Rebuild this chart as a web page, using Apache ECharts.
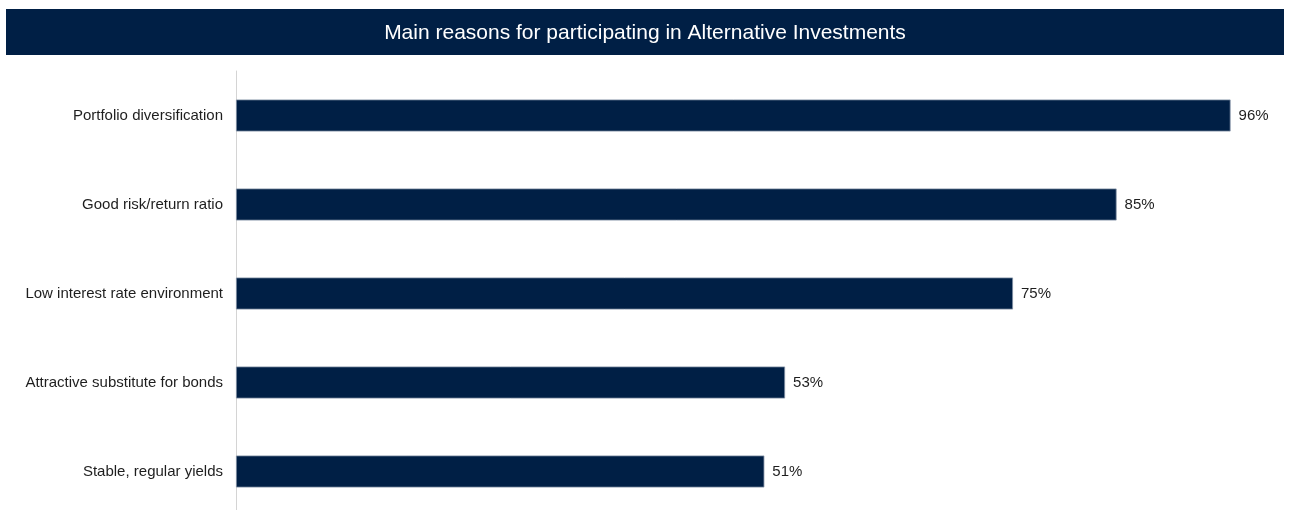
<!DOCTYPE html>
<html>
<head>
<meta charset="utf-8">
<script src="https://cdn.jsdelivr.net/npm/echarts@6/dist/echarts.min.js"></script>
<style>
  html, body { margin: 0; padding: 0; background: #fff; overflow: hidden; }
  /* a little taller than the window so the plot area runs off the bottom edge */
  #chart { width: 1290px; height: 520px; }
</style>
</head>
<body>
<div id="chart"></div>
<script>
// Reasons, top to bottom
const categories = [
  'Portfolio diversification',
  'Good risk/return ratio',
  'Low interest rate environment',
  'Attractive substitute for bonds',
  'Stable, regular yields'
];
// Share of respondents (%)
const shares = [96, 85, 75, 53, 51];

const chartTitle = 'Main reasons for participating in Alternative Investments';
const navy = '#001f45';
const font = '"Liberation Sans", Arial, sans-serif';

const chart = echarts.init(document.getElementById('chart'), null, { renderer: 'canvas' });

chart.setOption({
  backgroundColor: '#ffffff',
  animation: false,
  graphic: [
    {
      type: 'rect',
      left: 6,
      top: 9,
      shape: { width: 1278, height: 46 },
      style: { fill: navy }
    },
    {
      type: 'text',
      left: 'center',
      top: 23,
      style: {
        text: chartTitle,
        fill: '#ffffff',
        font: '21px ' + font
      }
    }
  ],
  grid: {
    left: 236,
    top: 71,
    width: 1036,
    height: 445,
    containLabel: false
  },
  xAxis: {
    type: 'value',
    min: 0,
    max: 100,
    show: false
  },
  yAxis: {
    type: 'category',
    data: categories,
    inverse: true,
    axisLine: { show: true, lineStyle: { color: '#d4d4d4', width: 1 } },
    axisTick: { show: false },
    axisLabel: {
      margin: 13,
      color: '#1e1e1e',
      fontSize: 15,
      fontFamily: font
    },
    splitLine: { show: false }
  },
  series: [
    {
      type: 'bar',
      data: shares,
      barWidth: 32,
      itemStyle: {
        color: navy,
        borderColor: '#8290a4',
        borderWidth: 0.8
      },
      label: {
        show: true,
        position: 'right',
        distance: 8,
        formatter: '{c}%',
        color: '#1e1e1e',
        fontSize: 15,
        fontFamily: font
      }
    }
  ]
});
</script>
</body>
</html>
